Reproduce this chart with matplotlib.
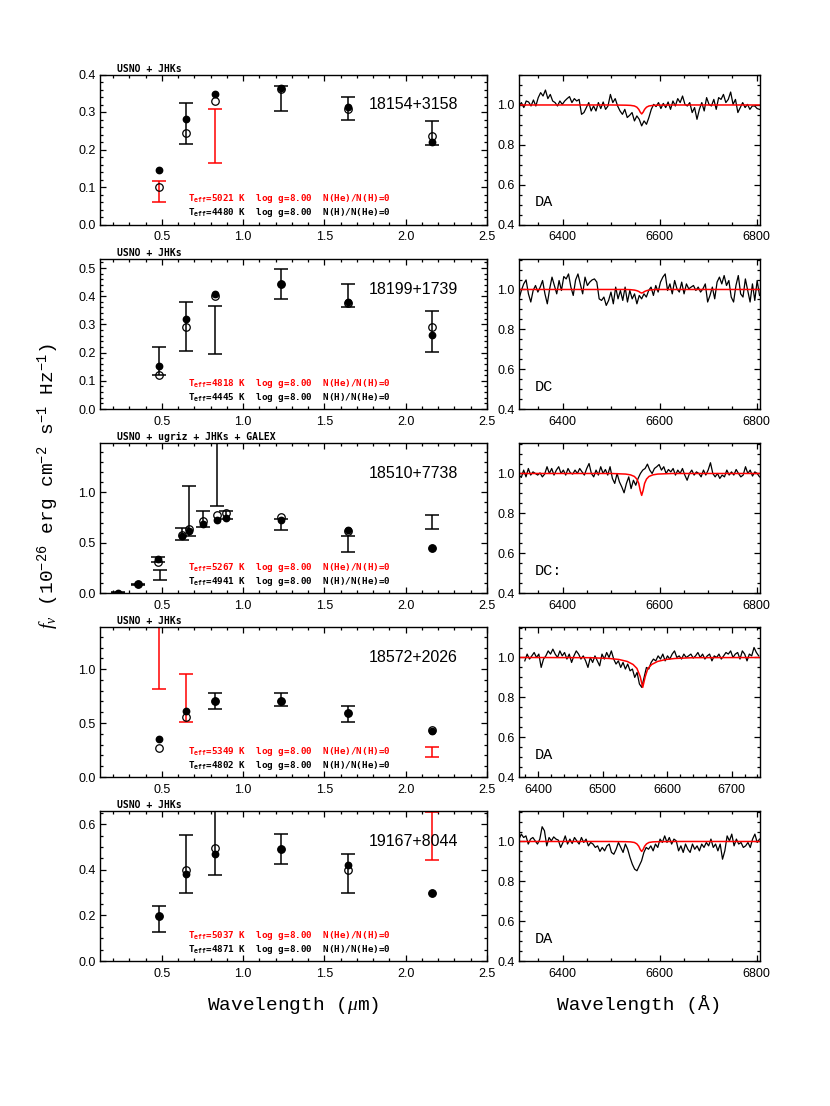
import numpy as np
import matplotlib
matplotlib.use("Agg")
import matplotlib.pyplot as plt
from matplotlib.ticker import MultipleLocator, FormatStrFormatter

plt.rcParams['font.family'] = ['Liberation Sans', 'DejaVu Sans']
plt.rcParams['mathtext.fontset'] = 'custom'
plt.rcParams['mathtext.rm'] = 'Liberation Mono'
plt.rcParams['mathtext.it'] = 'Liberation Serif:italic'
plt.rcParams['mathtext.tt'] = 'DejaVu Sans Mono'
plt.rcParams['mathtext.bf'] = 'DejaVu Sans Mono:bold'

# ---- object info ----
names = ["18154+3158", "18199+1739", "18510+7738", "18572+2026", "19167+8044"]
surveys = ["USNO + JHKs", "USNO + JHKs", "USNO + ugriz + JHKs + GALEX",
           "USNO + JHKs", "USNO + JHKs"]
sptypes = ["DA", "DC", "DC:", "DA", "DA"]
teff_h = [5021, 4818, 5267, 5349, 5037]
teff_he = [4480, 4445, 4941, 4802, 4871]

# ---- photometry (micron, 1e-26 erg/cm2/s/Hz) ----
p1_wave = [0.48, 0.65, 0.83, 1.235, 1.645, 2.16]
p1_obs = [0.088, 0.270, 0.2355, 0.3365, 0.310, 0.2445]
p1_err = [0.027, 0.054, 0.0715, 0.0335, 0.031, 0.0315]
p1_hmod = [0.146, 0.282, 0.348, 0.363, 0.313, 0.220]
p1_hemod = [0.101, 0.243, 0.330, 0.361, 0.308, 0.236]
p1_excl = [1, 0, 1, 0, 0, 0]

p2_wave = [0.48, 0.65, 0.83, 1.235, 1.645, 2.16]
p2_obs = [0.169, 0.293, 0.2815, 0.443, 0.402, 0.274]
p2_err = [0.050, 0.088, 0.0855, 0.053, 0.041, 0.072]
p2_hmod = [0.151, 0.320, 0.408, 0.443, 0.381, 0.261]
p2_hemod = [0.119, 0.292, 0.402, 0.445, 0.377, 0.292]
p2_excl = [0, 0, 0, 0, 0, 0]

p3_wave = [0.231, 0.355, 0.477, 0.49, 0.623, 0.665, 0.755, 0.838, 0.893, 1.235, 1.645, 2.16]
p3_obs = [0.004, 0.088, 0.330, 0.180, 0.590, 0.813, 0.733, 1.550, 0.778, 0.678, 0.487, 0.708]
p3_err = [0.003, 0.006, 0.027, 0.053, 0.060, 0.247, 0.077, 0.687, 0.038, 0.055, 0.080, 0.068]
p3_hmod = [0.003, 0.088, 0.335, np.nan, 0.567, 0.617, 0.683, 0.730, 0.743, 0.730, 0.627, 0.450]
p3_hemod = [np.nan, 0.090, 0.305, np.nan, 0.580, 0.633, 0.717, 0.773, 0.790, 0.750, 0.617, 0.450]
p3_excl = [0, 0, 0, 0, 0, 0, 0, 0, 0, 0, 0, 0]

p4_wave = [0.48, 0.65, 0.83, 1.235, 1.645, 2.16]
p4_obs = [1.500, 0.735, 0.7065, 0.7145, 0.5845, 0.2335]
p4_err = [0.685, 0.221, 0.0735, 0.0595, 0.0705, 0.0485]
p4_hmod = [0.351, 0.608, 0.705, 0.708, 0.592, 0.423]
p4_hemod = [0.266, 0.555, 0.705, 0.708, 0.592, 0.439]
p4_excl = [1, 1, 0, 0, 0, 1]

p5_wave = [0.48, 0.65, 0.83, 1.235, 1.645, 2.16]
p5_obs = [0.1845, 0.4255, 0.600, 0.491, 0.3845, 0.548]
p5_err = [0.0555, 0.1285, 0.222, 0.065, 0.0855, 0.107]
p5_hmod = [0.196, 0.382, 0.470, 0.490, 0.422, 0.299]
p5_hemod = [0.196, 0.397, 0.496, 0.490, 0.401, 0.299]
p5_excl = [0, 0, 0, 0, 0, 1]

# ---- normalised spectra around H-alpha ----
spec1_range = (6310, 6806)
spec1_flux = [0.995, 1.012, 0.987, 1.02, 1.015, 0.995, 1.025, 0.995, 1.037, 1.062,
              1.045, 1.075, 1.032, 1.053, 1.02, 1.012, 0.995, 1.02, 1.003, 1.02,
              1.032, 1.042, 1.012, 1.032, 1.02, 1.028, 0.953, 0.962, 0.987, 1.012,
              0.97, 0.995, 0.97, 1.012, 0.982, 1.015, 0.978, 0.995, 1.053, 1.012,
              1.032, 0.995, 0.97, 0.953, 0.978, 0.937, 0.948, 0.962, 0.92, 0.945,
              0.928, 0.895, 0.92, 0.903, 0.937, 0.978, 1.003, 0.992, 1.012, 0.982,
              1.008, 0.987, 1.015, 0.978, 1.02, 0.995, 1.032, 1.012, 1.045, 1.003,
              0.995, 1.012, 0.962, 0.987, 0.928, 0.978, 1.012, 0.97, 1.037, 1.003,
              0.995, 1.028, 0.978, 1.037, 1.028, 1.053, 1.012, 1.028, 1.065, 1.003,
              1.028, 0.962, 0.987, 1.012, 0.987, 1.003, 0.978, 0.995, 0.995, 0.982,
              0.978]

spec2_range = (6310, 6806)
spec2_flux = [0.953, 0.995, 1.028, 1.048, 0.978, 0.937, 0.995, 1.02, 0.987, 1.012,
              1.045, 0.978, 0.928, 1.003, 1.062, 1.02, 0.978, 1.045, 0.995, 1.065,
              1.053, 1.078, 1.012, 0.97, 1.048, 1.078, 1.028, 0.978, 1.062, 1.02,
              1.037, 1.048, 1.053, 1.037, 0.953, 0.945, 0.962, 0.92, 0.945, 0.987,
              0.928, 1.012, 0.953, 0.995, 0.945, 1.012, 0.937, 0.995, 0.953, 0.978,
              0.928, 0.97, 0.953, 0.978, 0.962, 0.995, 1.012, 0.97, 1.02, 0.987,
              1.037, 1.062, 1.078, 0.995, 1.028, 0.978, 1.045, 1.003, 0.987, 1.037,
              0.978, 1.028, 1.003, 1.012, 1.02, 0.995, 1.012, 0.987, 1.003, 1.028,
              0.937, 0.97, 1.012, 0.953, 1.037, 1.062, 1.028, 1.07, 1.02, 1.045,
              0.962, 0.937, 1.02, 1.07, 0.978, 0.962, 1.053, 0.995, 0.937, 1.028,
              0.945, 1.045, 0.97]

spec3_range = (6310, 6806)
spec3_flux = [0.992, 0.98, 1.017, 0.983, 1.025, 0.992, 1.008, 1.0, 0.992, 1.003,
              0.983, 0.997, 1.034, 1.0, 1.025, 0.992, 1.017, 1.034, 1.0, 1.017,
              0.992, 1.025, 1.003, 0.997, 1.017, 1.0, 1.025, 1.008, 0.992, 1.025,
              1.05, 1.0, 0.983, 1.017, 0.992, 1.034, 1.0, 1.02, 0.992, 1.034,
              0.975, 0.95, 1.0, 0.958, 0.933, 0.903, 0.95, 0.983, 0.924, 0.966,
              0.941, 0.975, 1.0, 1.017, 1.025, 1.047, 1.017, 1.0, 1.025, 1.034,
              1.045, 1.017, 1.034, 1.0, 1.02, 1.008, 1.025, 0.992, 1.017, 1.0,
              1.025, 0.992, 0.966, 1.0, 1.017, 0.992, 1.008, 1.0, 0.983, 1.017,
              0.992, 1.017, 1.054, 1.0, 0.983, 1.0, 0.975, 0.992, 0.983, 1.017,
              0.992, 1.008, 0.992, 1.02, 1.0, 0.983, 0.992, 1.034, 1.0, 1.017,
              0.987, 1.008, 1.0, 0.983]

spec4_range = (6379, 6742)
spec4_flux = [0.983, 1.017, 0.992, 1.008, 1.025, 1.0, 1.017, 0.95, 0.992, 1.008,
              1.033, 1.017, 1.042, 1.017, 1.0, 1.033, 1.008, 1.025, 0.992, 1.017,
              0.975, 1.008, 1.033, 1.017, 0.992, 1.008, 0.983, 0.95, 1.0, 0.975,
              1.008, 0.983, 0.958, 1.017, 0.992, 1.025, 1.0, 1.033, 0.992, 0.967,
              0.983, 0.95, 0.975, 0.942, 0.967, 0.933, 0.942, 0.9, 0.925, 0.867,
              0.85, 0.9, 0.95, 0.942, 0.975, 0.992, 0.983, 1.008, 0.992, 1.017,
              0.983, 1.008, 0.992, 1.017, 1.033, 1.0, 1.008, 0.992, 1.017, 1.0,
              1.008, 1.017, 0.997, 1.008, 1.025, 1.0, 1.017, 0.992, 1.008, 1.017,
              0.983, 1.008, 1.0, 1.017, 0.992, 1.008, 1.025, 1.017, 1.033, 1.0,
              1.017, 1.025, 0.992, 1.033, 1.017, 0.983, 1.017, 1.008, 1.05, 1.025,
              1.008]

spec5_range = (6310, 6806)
spec5_flux = [1.012, 1.037, 1.02, 1.028, 0.987, 1.012, 1.02, 1.003, 0.987, 1.012,
              1.074, 1.054, 0.978, 1.02, 1.003, 1.023, 1.012, 1.007, 0.97, 0.995,
              1.028, 0.987, 1.012, 0.99, 1.02, 1.003, 0.987, 1.02, 0.995, 1.012,
              0.978, 0.995, 0.987, 0.97, 0.978, 0.95, 0.97, 0.953, 0.978, 0.987,
              0.945, 0.936, 0.961, 0.995, 0.97, 0.945, 0.987, 0.961, 0.92, 0.886,
              0.861, 0.853, 0.878, 0.903, 0.945, 0.97, 0.961, 0.978, 0.953, 0.987,
              0.97, 1.012, 0.995, 1.028, 0.995, 1.02, 0.987, 1.012, 1.003, 0.953,
              0.978, 0.945, 0.987, 0.961, 0.945, 0.987, 0.961, 0.978, 0.953, 0.987,
              0.97, 0.995, 0.978, 1.012, 0.97, 0.987, 0.953, 0.987, 0.911, 0.953,
              1.028, 1.003, 1.037, 0.978, 1.012, 0.987, 0.995, 0.97, 0.978, 0.995,
              0.97, 1.012, 1.037, 0.995, 1.012]

# ---- model H-alpha profiles ----
model_wave = [6300, 6500, 6530, 6540, 6548, 6553, 6557, 6560, 6563,
              6566, 6569, 6573, 6578, 6586, 6596, 6626, 6820]
model1 = [1.0, 1.0, 0.999, 0.998, 0.995, 0.989, 0.978, 0.964, 0.955,
          0.964, 0.978, 0.989, 0.995, 0.998, 0.999, 1.0, 1.0]
model2 = [1.0, 1.0, 1.0, 0.999, 0.997, 0.994, 0.99, 0.985, 0.982,
          0.985, 0.99, 0.994, 0.997, 0.999, 1.0, 1.0, 1.0]
model3 = [1.0, 1.0, 0.997, 0.993, 0.985, 0.972, 0.95, 0.915, 0.89,
          0.915, 0.95, 0.972, 0.985, 0.993, 0.997, 1.0, 1.0]
model5 = [1.0, 1.0, 0.999, 0.998, 0.995, 0.988, 0.976, 0.96, 0.95,
          0.96, 0.976, 0.988, 0.995, 0.998, 0.999, 1.0, 1.0]
model4_wave = [6360, 6480, 6510, 6525, 6538, 6547, 6553, 6558, 6562,
               6566, 6570, 6576, 6585, 6598, 6612, 6640, 6760]
model4 = [1.0, 0.999, 0.995, 0.99, 0.98, 0.965, 0.945, 0.905, 0.85,
          0.905, 0.945, 0.965, 0.98, 0.99, 0.995, 0.999, 1.0]

phot = [(p1_wave, p1_obs, p1_err, p1_hmod, p1_hemod, p1_excl),
        (p2_wave, p2_obs, p2_err, p2_hmod, p2_hemod, p2_excl),
        (p3_wave, p3_obs, p3_err, p3_hmod, p3_hemod, p3_excl),
        (p4_wave, p4_obs, p4_err, p4_hmod, p4_hemod, p4_excl),
        (p5_wave, p5_obs, p5_err, p5_hmod, p5_hemod, p5_excl)]
spectra = [(spec1_range, spec1_flux, model_wave, model1),
           (spec2_range, spec2_flux, model_wave, model2),
           (spec3_range, spec3_flux, model_wave, model3),
           (spec4_range, spec4_flux, model4_wave, model4),
           (spec5_range, spec5_flux, model_wave, model5)]

# axis settings per row: (ymax, ymajor, yminor)
left_y = [(0.4, 0.1, 0.02), (0.532, 0.1, 0.02), (1.49, 0.5, 0.1),
          (1.39, 0.5, 0.1), (0.658, 0.2, 0.05)]
right_x = [(6310, 6807, 200, 50), (6310, 6807, 200, 50), (6310, 6807, 200, 50),
           (6370, 6744, 100, 20), (6310, 6807, 200, 50)]

W, H = 830.0, 1106.0
row_tops = [74.5, 259, 443, 627, 811]
mono = 'DejaVu Sans Mono'


def style_axis(ax):
    for s in ax.spines.values():
        s.set_linewidth(1.0)
    ax.tick_params(which='both', direction='in', top=True, right=True,
                   labelsize=9, width=0.9)
    ax.tick_params(which='major', length=4.5)
    ax.tick_params(which='minor', length=2.3)
    ax.tick_params(axis='y', pad=3)
    ax.tick_params(axis='x', pad=5)


fig = plt.figure(figsize=(8.3, 11.06), dpi=100)

for i in range(5):
    b = 1 - (row_tops[i] + 150) / H
    axl = fig.add_axes([100 / W, b, 387 / W, 150 / H])
    axr = fig.add_axes([519 / W, b, 241 / W, 150 / H])

    # SED panel
    wave, obs, err, hmod, hemod, excl = phot[i]
    for w, o, e, f in zip(wave, obs, err, excl):
        c = 'red' if f else 'black'
        axl.errorbar(w, o, yerr=e, fmt='none', ecolor=c, elinewidth=1.1,
                     capsize=5, capthick=1.1)
    axl.plot(wave, hemod, 'o', ms=5.4, mfc='none', mec='black', mew=0.9)
    axl.plot(wave, hmod, 'o', ms=4.6, color='black')

    ymax, ymaj, ymin = left_y[i]
    axl.set_xlim(0.12, 2.5)
    axl.set_ylim(0, ymax)
    axl.xaxis.set_major_locator(MultipleLocator(0.5))
    axl.xaxis.set_minor_locator(MultipleLocator(0.1))
    axl.yaxis.set_major_locator(MultipleLocator(ymaj))
    axl.yaxis.set_minor_locator(MultipleLocator(ymin))
    axl.xaxis.set_major_formatter(FormatStrFormatter('%.1f'))
    axl.yaxis.set_major_formatter(FormatStrFormatter('%.1f'))
    style_axis(axl)

    axl.text(0.925, 0.80, names[i], transform=axl.transAxes, ha='right',
             va='center', fontsize=11.5)
    axl.text(0.044, 1.006, surveys[i], transform=axl.transAxes, ha='left',
             va='bottom', fontsize=7.0, family=mono, fontweight='bold')
    axl.text(0.227, 0.173,
             r"T$_{\mathbf{eff}}$=%d K  log g=8.00  N(He)/N(H)=0" % teff_h[i],
             transform=axl.transAxes, ha='left', va='center', fontsize=6.7,
             family=mono, fontweight='bold', color='red')
    axl.text(0.227, 0.08,
             r"T$_{\mathbf{eff}}$=%d K  log g=8.00  N(H)/N(He)=0" % teff_he[i],
             transform=axl.transAxes, ha='left', va='center', fontsize=6.7,
             family=mono, fontweight='bold', color='black')

    # spectrum panel
    (l0, l1), flux, mw, mf = spectra[i]
    lam = np.linspace(l0, l1, len(flux))
    axr.plot(lam, flux, color='black', lw=0.9)
    axr.plot(mw, mf, color='red', lw=1.1)
    x0, x1, xmaj, xmin = right_x[i]
    axr.set_xlim(x0, x1)
    axr.set_ylim(0.4, 1.153)
    axr.xaxis.set_major_locator(MultipleLocator(xmaj))
    axr.xaxis.set_minor_locator(MultipleLocator(xmin))
    axr.yaxis.set_major_locator(MultipleLocator(0.2))
    axr.yaxis.set_minor_locator(MultipleLocator(0.05))
    axr.xaxis.set_major_formatter(FormatStrFormatter('%d'))
    axr.yaxis.set_major_formatter(FormatStrFormatter('%.1f'))
    style_axis(axr)
    axr.text(0.066, 0.147, sptypes[i], transform=axr.transAxes, ha='left',
             va='center', fontsize=11, family='Liberation Mono')

fig.text(48 / W, 1 - 486 / H,
         r"$f_\nu$ (10$^{-26}$ erg cm$^{-2}$ s$^{-1}$ Hz$^{-1}$)",
         rotation=90, ha='center', va='center', fontsize=14,
         family='Liberation Mono')
fig.text(293.5 / W, 1 - 1005 / H, r"Wavelength ($\mu$m)", ha='center',
         va='center', fontsize=14, family='Liberation Mono')
fig.text(639.5 / W, 1 - 1005 / H, "Wavelength (Å)", ha='center',
         va='center', fontsize=14, family='Liberation Mono')

fig.savefig("out.png", dpi=100)
